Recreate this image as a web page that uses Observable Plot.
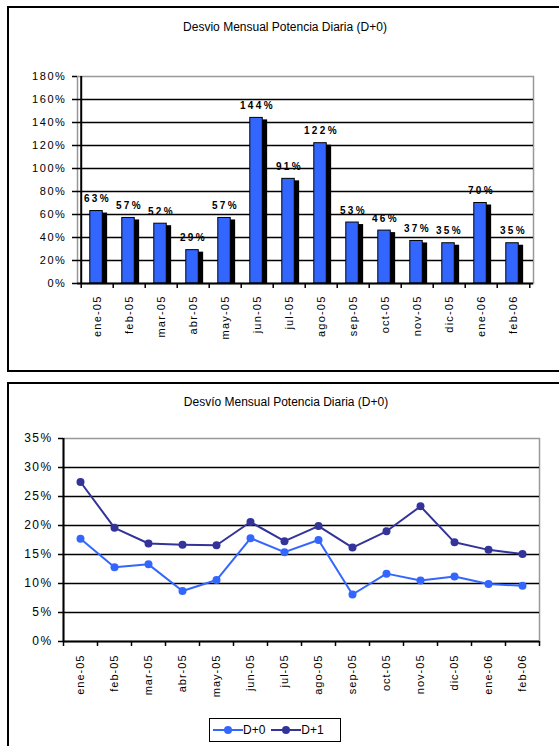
<!DOCTYPE html>
<html><head><meta charset="utf-8">
<script src="https://cdn.jsdelivr.net/npm/d3@7"></script>
<script src="https://cdn.jsdelivr.net/npm/@observablehq/plot@0.6"></script>
<style>
body{margin:0;background:#fff;font-family:"Liberation Sans",Arial,sans-serif;}
#wrap{position:relative;width:559px;height:746px;overflow:hidden;}
.box{position:absolute;border:2px solid #000;box-sizing:border-box;}
.title{position:absolute;font-size:12px;line-height:14px;color:#000;white-space:nowrap;transform:translateX(-50%);}
#wrap svg.chart{position:absolute;left:0;}
.topchart g[aria-label="y-axis tick label"] text{letter-spacing:1.6px}
.topchart g[aria-label="x-axis tick label"] text{letter-spacing:1.2px}
.topchart g[aria-label="text"] text{letter-spacing:2.4px}
.botchart g[aria-label="y-axis tick label"] text{letter-spacing:1.4px}
.botchart g[aria-label="x-axis tick label"] text{letter-spacing:1px}
#legend{position:absolute;left:209px;top:718px;width:132px;height:24px;border:1.5px solid #000;box-sizing:border-box;display:flex;align-items:center;font-size:12px;}
#legend span{margin-right:6px}
</style>
</head><body>
<div id="wrap">
  <div class="box" style="left:7px;top:6px;width:560px;height:366px;"></div>
  <div class="title" style="left:285px;top:20px;">Desvio Mensual Potencia Diaria (D+0)</div>
  <div class="box" style="left:7px;top:382px;width:560px;height:400px;"></div>
  <div class="title" style="left:286px;top:395px;">Desvío Mensual Potencia Diaria (D+0)</div>
  <div id="legend">
    <svg width="30" height="12" style="margin-left:3px"><line x1="0" x2="30" y1="6" y2="6" stroke="#3366FF" stroke-width="2"/><circle cx="15" cy="6" r="4" fill="#3366FF"/></svg><span>D+0</span>
    <svg width="30" height="12"><line x1="0" x2="30" y1="6" y2="6" stroke="#333399" stroke-width="2"/><circle cx="15" cy="6" r="4" fill="#333399"/></svg><span>D+1</span>
  </div>
</div>
<script>
const months = ["ene-05","feb-05","mar-05","abr-05","may-05","jun-05","jul-05","ago-05","sep-05","oct-05","nov-05","dic-05","ene-06","feb-06"];
const desvioBar = [63,57,52,29,57,144,91,122,53,46,37,35,70,35];
const seriesD0 = [17.7,12.8,13.3,8.7,10.6,17.8,15.4,17.5,8.1,11.7,10.5,11.2,9.9,9.6];
const seriesD1 = [27.5,19.6,16.9,16.7,16.6,20.6,17.3,19.9,16.2,19.0,23.3,17.1,15.8,15.1];
const barTicks = [0,20,40,60,80,100,120,140,160,180];
const lineTicks = [0,5,10,15,20,25,30,35];
const seriesNames = ["D+0","D+1"];
const seriesColors = ["#3366FF","#333399"];

const font = {fontFamily:"Liberation Sans, Arial, sans-serif", fontSize:"11px", color:"black", background:"transparent"};
const wrap = document.getElementById("wrap");

// ---- Top bar chart ----
{
  const W = 559, H = 372, mL = 77, mR = 26, mT = 76, mB = 89;
  const bw = (W - mL - mR) / months.length;
  const data = months.map((m,i) => ({m, v: desvioBar[i]}));
  const svg = Plot.plot({
    width: W, height: H, marginLeft: mL, marginRight: mR, marginTop: mT, marginBottom: mB,
    className: "topchart", style: font,
    x: {type:"band", domain: months, padding: 0, axis: null, label: null},
    y: {domain: [0,180], axis: null, label: null},
    marks: [
      Plot.frame({stroke:"#999", strokeWidth:1.5}),
      Plot.ruleY(barTicks.filter(t => t > 0 && t < 180), {stroke:"black", strokeWidth:1.5}),
      Plot.barY(data, {x:"m", y:"v", fill:"black", insetLeft: bw*0.38, insetRight: bw*0.18, insetTop: 2}),
      Plot.barY(data, {x:"m", y:"v", fill:"#3366FF", stroke:"black", strokeWidth:1, insetLeft: bw*0.27, insetRight: bw*0.33}),
      Plot.text(data, {x:"m", y:"v", text: d => d.v + "%", dy:-9, dx:0, lineAnchor:"bottom", fontWeight:"bold", fontSize:10}),
      Plot.ruleY([0], {stroke:"black", strokeWidth:2}),
      Plot.ruleX([months[0]], {stroke:"black", strokeWidth:2, dx: -bw/2}),
      Plot.axisY({ticks: barTicks, tickFormat: d => d + "%", tickSize:5, tickPadding:6, fontSize:11, strokeWidth:1.5, label: null}),
      Plot.axisX({ticks: months, tickSize:5, tickFormat: () => "", dx: -bw/2, strokeWidth:1.5, label: null}),
      Plot.axisX({ticks: [months[months.length-1]], tickSize:5, tickFormat: () => "", dx: bw/2, strokeWidth:1.5, label: null}),
      Plot.axisX({ticks: months, tickSize:0, tickRotate:-90, tickPadding:12, fontSize:11, label: null})
    ]
  });
  svg.classList.add("chart");
  svg.style.top = "0px";
  wrap.appendChild(svg);
}

// ---- Bottom line chart ----
{
  const W = 559, H = 364, mL = 63, mR = 20, mT = 56, mB = 105;
  const bw = (W - mL - mR) / months.length;
  const data = [];
  months.forEach((m,i) => data.push({m, v: seriesD0[i], s: seriesNames[0]}));
  months.forEach((m,i) => data.push({m, v: seriesD1[i], s: seriesNames[1]}));
  const svg = Plot.plot({
    width: W, height: H, marginLeft: mL, marginRight: mR, marginTop: mT, marginBottom: mB,
    className: "botchart", style: font,
    x: {type:"band", domain: months, padding: 0, axis: null, label: null},
    y: {domain: [0,35], axis: null, label: null},
    color: {domain: seriesNames, range: seriesColors},
    marks: [
      Plot.frame({stroke:"#999", strokeWidth:1.5}),
      Plot.ruleY(lineTicks.filter(t => t > 0 && t < 35), {stroke:"black", strokeWidth:1.5}),
      Plot.line(data, {x:"m", y:"v", stroke:"s", z:"s", strokeWidth:2}),
      Plot.dot(data, {x:"m", y:"v", fill:"s", r:4}),
      Plot.ruleY([0], {stroke:"black", strokeWidth:2}),
      Plot.ruleX([months[0]], {stroke:"black", strokeWidth:2, dx: -bw/2}),
      Plot.axisY({ticks: lineTicks, tickFormat: d => d + "%", tickSize:5, tickPadding:6, fontSize:12, strokeWidth:1.5, label: null}),
      Plot.axisX({ticks: months, tickSize:5, tickFormat: () => "", dx: -bw/2, strokeWidth:1.5, label: null}),
      Plot.axisX({ticks: [months[months.length-1]], tickSize:5, tickFormat: () => "", dx: bw/2, strokeWidth:1.5, label: null}),
      Plot.axisX({ticks: months, tickSize:0, tickRotate:-90, tickPadding:13, fontSize:11, label: null})
    ]
  });
  svg.classList.add("chart");
  svg.style.top = "382px";
  wrap.appendChild(svg);
}
</script>
</body></html>
